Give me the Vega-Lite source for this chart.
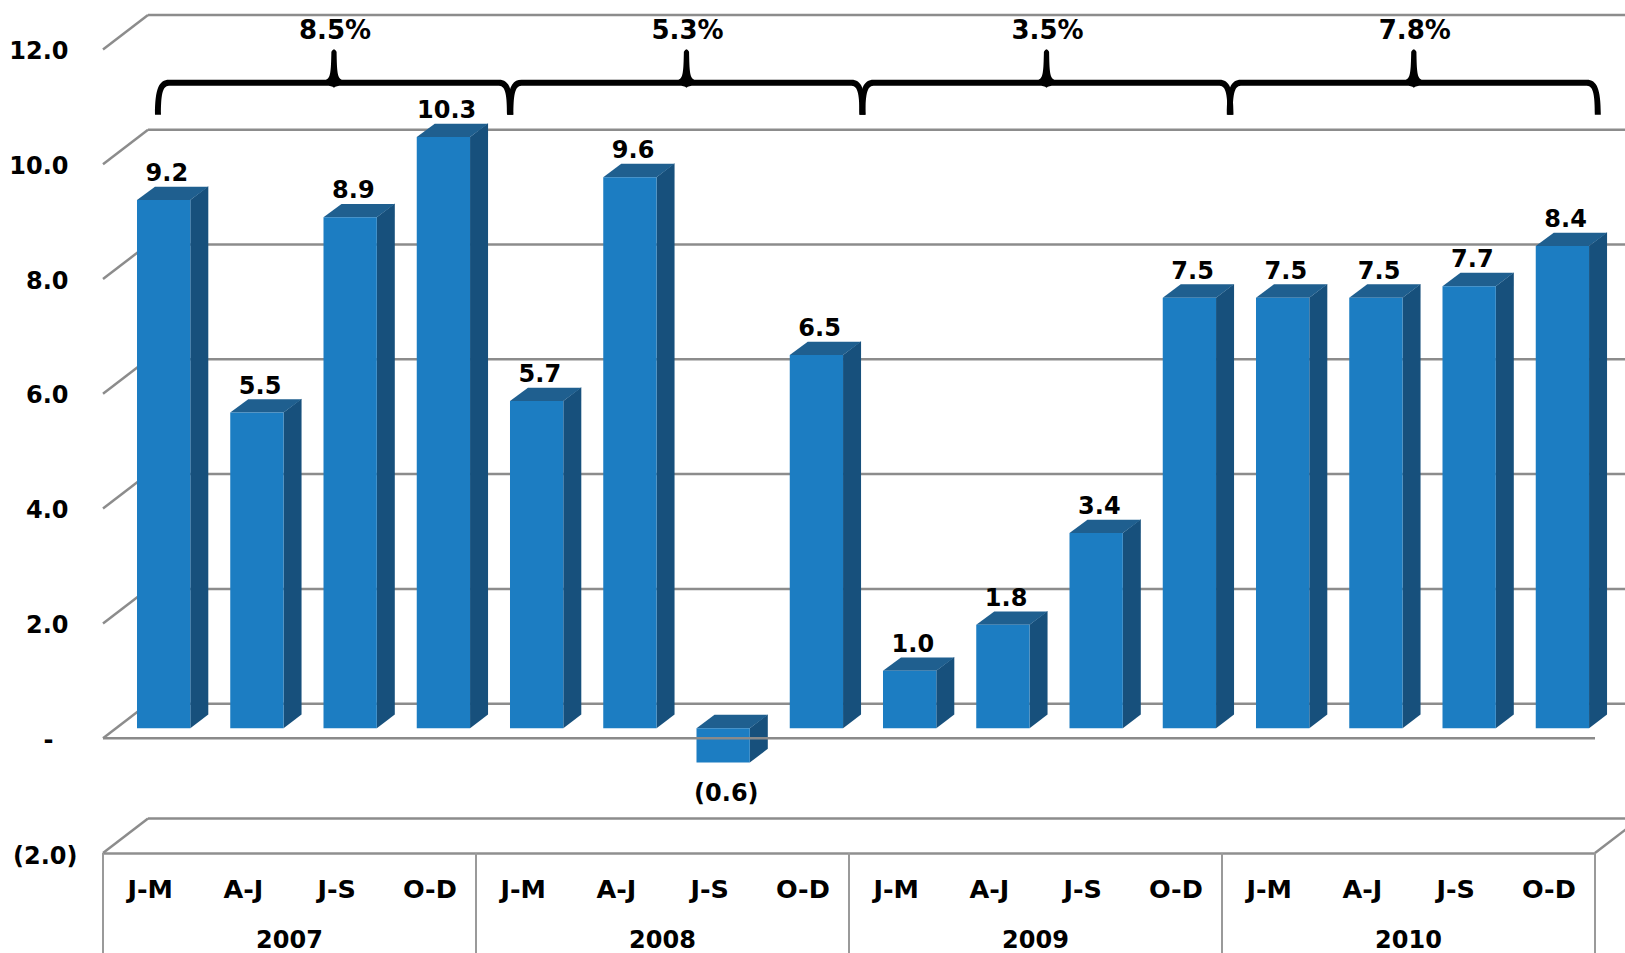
{
  "$schema": "https://vega.github.io/schema/vega-lite/v6.json",
  "autosize": {"type": "none"},
  "padding": {"left": 103, "top": 0, "right": 30, "bottom": 100},
  "width": 1492,
  "height": 853,
  "background": "white",
  "resolve": {"axis": {"y": "independent"}},
  "config": {
    "view": {"stroke": null},
    "text": {"font": "DejaVu Sans", "fontWeight": "bold", "fontSize": 24, "fill": "black"},
    "axis": {"labelFont": "DejaVu Sans", "labelFontWeight": "bold", "labelFontSize": 24, "labelColor": "black"}
  },
  "datasets": {
    "quarters": [
      {"period": "J-M", "year": 2007, "index": 0, "value": 9.2},
      {"period": "A-J", "year": 2007, "index": 1, "value": 5.5},
      {"period": "J-S", "year": 2007, "index": 2, "value": 8.9},
      {"period": "O-D", "year": 2007, "index": 3, "value": 10.3},
      {"period": "J-M", "year": 2008, "index": 4, "value": 5.7},
      {"period": "A-J", "year": 2008, "index": 5, "value": 9.6},
      {"period": "J-S", "year": 2008, "index": 6, "value": -0.6},
      {"period": "O-D", "year": 2008, "index": 7, "value": 6.5},
      {"period": "J-M", "year": 2009, "index": 8, "value": 1.0},
      {"period": "A-J", "year": 2009, "index": 9, "value": 1.8},
      {"period": "J-S", "year": 2009, "index": 10, "value": 3.4},
      {"period": "O-D", "year": 2009, "index": 11, "value": 7.5},
      {"period": "J-M", "year": 2010, "index": 12, "value": 7.5},
      {"period": "A-J", "year": 2010, "index": 13, "value": 7.5},
      {"period": "J-S", "year": 2010, "index": 14, "value": 7.7},
      {"period": "O-D", "year": 2010, "index": 15, "value": 8.4}
    ],
    "years": [
      {"year": 2007, "middle": 2, "growth": 8.5, "brace": 2.477},
      {"year": 2008, "middle": 6, "growth": 5.3, "brace": 6.257},
      {"year": 2009, "middle": 10, "growth": 3.5, "brace": 10.118},
      {"year": 2010, "middle": 14, "growth": 7.8, "brace": 14.057}
    ],
    "ticks": [
      {"tick": -2}, {"tick": 0}, {"tick": 2}, {"tick": 4}, {"tick": 6}, {"tick": 8}, {"tick": 10}, {"tick": 12}
    ],
    "dividers": [
      {"at": 0}, {"at": 4}, {"at": 8}, {"at": 12}, {"at": 16}
    ]
  },
  "layer": [
    {
      "description": "Back wall gridlines, pushed up and to the right by the depth of the box; carries the axis labels for positive values",
      "data": {"name": "ticks"},
      "mark": {"type": "rule", "stroke": "#8c8c8c", "strokeWidth": 2.5},
      "transform": [
        {"calculate": "datum.tick + 0.601", "as": "wall"},
        {"calculate": "0.4826", "as": "x0"},
        {"calculate": "16.4826", "as": "x1"}
      ],
      "encoding": {
        "x": {"field": "x0", "type": "quantitative", "scale": {"domain": [0, 16], "nice": false, "zero": false}, "axis": {
          "orient": "bottom",
          "values": [0.5, 1.5, 2.5, 3.5, 4.5, 5.5, 6.5, 7.5, 8.5, 9.5, 10.5, 11.5, 12.5, 13.5, 14.5, 15.5],
          "labelExpr": "['J-M','A-J','J-S','O-D'][floor(datum.value) % 4]",
          "title": null, "grid": false, "ticks": false,
          "domain": true, "domainColor": "#8f8f8f", "domainWidth": 2.5,
          "labelFontSize": 25.5,
          "labelPadding": 36, "labelBaseline": "middle", "labelAlign": "center",
          "labelFlush": false, "labelOverlap": false, "labelBound": false
        }},
        "x2": {"field": "x1"},
        "y": {"field": "wall", "type": "quantitative", "scale": {"domain": [-2, 12.861], "nice": false, "zero": false}, "axis": {
          "orient": "left",
          "values": [2, 4, 6, 8, 10, 12],
          "format": ".1f",
          "title": null, "grid": false, "ticks": false, "domain": false,
          "labelPadding": 35, "labelAlign": "right", "labelBaseline": "middle", "labelOffset": 2,
          "labelFlush": false, "labelOverlap": false, "labelBound": false
        }}
      }
    },
    {
      "description": "Slanted side of each gridline on the left wall; carries the bracketed label of the lowest level",
      "data": {"name": "ticks"},
      "mark": {"type": "rule", "stroke": "#8c8c8c", "strokeWidth": 2.5},
      "transform": [
        {"calculate": "datum.tick + 0.601", "as": "wall"},
        {"calculate": "0", "as": "x0"},
        {"calculate": "0.4826", "as": "x1"}
      ],
      "encoding": {
        "x": {"field": "x0", "type": "quantitative"},
        "x2": {"field": "x1"},
        "y": {"field": "tick", "type": "quantitative", "axis": {
          "orient": "left",
          "values": [-2],
          "labelExpr": "'(' + format(-datum.value, '.1f') + ')'",
          "title": null, "grid": false, "ticks": false, "domain": false,
          "labelPadding": 26, "labelAlign": "right", "labelBaseline": "middle", "labelOffset": 3,
          "labelFlush": false, "labelOverlap": false, "labelBound": false
        }},
        "y2": {"field": "wall"}
      }
    },
    {
      "description": "Floor edge on the right, at the lowest level only; carries the dash shown for zero",
      "data": {"name": "ticks"},
      "mark": {"type": "rule", "stroke": "#8c8c8c", "strokeWidth": 2.5},
      "transform": [
        {"filter": "datum.tick == -2"},
        {"calculate": "datum.tick + 0.601", "as": "wall"},
        {"calculate": "16", "as": "x0"},
        {"calculate": "16.4826", "as": "x1"}
      ],
      "encoding": {
        "x": {"field": "x0", "type": "quantitative"},
        "x2": {"field": "x1"},
        "y": {"field": "tick", "type": "quantitative", "axis": {
          "orient": "left",
          "values": [0],
          "labelExpr": "'-'",
          "title": null, "grid": false, "ticks": false, "domain": false,
          "labelPadding": 50, "labelAlign": "right", "labelBaseline": "middle", "labelOffset": 2,
          "labelFlush": false, "labelOverlap": false, "labelBound": false
        }},
        "y2": {"field": "wall"}
      }
    },
    {
      "description": "Separators between the years in the category table",
      "data": {"name": "dividers"},
      "mark": {"type": "rule", "stroke": "#9a9a9a", "strokeWidth": 2},
      "encoding": {
        "x": {"field": "at", "type": "quantitative"},
        "y": {"datum": -2, "type": "quantitative", "axis": null},
        "y2": {"datum": -3.75}
      }
    },
    {
      "description": "Right side of each bar",
      "data": {"name": "quarters"},
      "transform": [
        {"calculate": "[0, 1]", "as": "edge"},
        {"flatten": ["edge"]},
        {"calculate": "datum.index + 0.3646 + 0.5716 + datum.edge * 0.193", "as": "sx"},
        {"calculate": "max(datum.value, 0) + 0.175 + datum.edge * 0.24", "as": "hi"},
        {"calculate": "min(datum.value, 0) + 0.175 + datum.edge * 0.24", "as": "lo"}
      ],
      "mark": {"type": "area", "fill": "#17507c", "opacity": 1},
      "encoding": {
        "x": {"field": "sx", "type": "quantitative"},
        "y": {"field": "hi", "type": "quantitative", "stack": null, "axis": null},
        "y2": {"field": "lo"},
        "detail": {"field": "index"}
      }
    },
    {
      "description": "Top face of each bar",
      "data": {"name": "quarters"},
      "transform": [
        {"calculate": "[0, 1]", "as": "edge"},
        {"flatten": ["edge"]},
        {"calculate": "datum.index + 0.3646 + datum.edge * 0.193", "as": "tl"},
        {"calculate": "datum.index + 0.3646 + 0.5716 + datum.edge * 0.193", "as": "tr"},
        {"calculate": "max(datum.value, 0) + 0.175 + datum.edge * 0.232", "as": "ty"}
      ],
      "mark": {"type": "area", "orient": "horizontal", "fill": "#1f5f8f", "opacity": 1},
      "encoding": {
        "y": {"field": "ty", "type": "quantitative", "axis": null},
        "x": {"field": "tl", "type": "quantitative", "stack": null},
        "x2": {"field": "tr"},
        "detail": {"field": "index"}
      }
    },
    {
      "description": "Front face of each bar",
      "data": {"name": "quarters"},
      "transform": [
        {"calculate": "datum.index + 0.3646", "as": "fl"},
        {"calculate": "datum.index + 0.3646 + 0.5716", "as": "fr"},
        {"calculate": "max(datum.value, 0) + 0.175", "as": "hi"},
        {"calculate": "min(datum.value, 0) + 0.175", "as": "lo"}
      ],
      "mark": {"type": "rect", "fill": "#1c7dc2"},
      "encoding": {
        "x": {"field": "fl", "type": "quantitative"},
        "x2": {"field": "fr"},
        "y": {"field": "hi", "type": "quantitative", "axis": null},
        "y2": {"field": "lo"}
      }
    },
    {
      "description": "Front edge of the zero plane, which passes in front of the negative bar",
      "data": {"name": "ticks"},
      "mark": {"type": "rule", "stroke": "#8a8a8a", "strokeWidth": 2.5},
      "transform": [
        {"filter": "datum.tick == 0"},
        {"calculate": "0", "as": "x0"},
        {"calculate": "16", "as": "x1"}
      ],
      "encoding": {
        "x": {"field": "x0", "type": "quantitative"},
        "x2": {"field": "x1"},
        "y": {"field": "tick", "type": "quantitative", "axis": null}
      }
    },
    {
      "description": "Value above each bar, in brackets below the bar when negative",
      "data": {"name": "quarters"},
      "transform": [
        {"calculate": "datum.index + 0.3646 + 0.32", "as": "lx"},
        {"calculate": "datum.value < 0 ? datum.value + 0.181 - 0.52 : datum.value + 0.181 + 0.232 + 0.24", "as": "ly"},
        {"calculate": "datum.value < 0 ? '(' + format(-datum.value, '.1f') + ')' : format(datum.value, '.1f')", "as": "shown"}
      ],
      "mark": {"type": "text", "baseline": "middle", "align": "center", "dy": 1.5},
      "encoding": {
        "x": {"field": "lx", "type": "quantitative"},
        "y": {"field": "ly", "type": "quantitative", "axis": null},
        "text": {"field": "shown"}
      }
    },
    {
      "description": "Year names under the quarters",
      "data": {"name": "years"},
      "mark": {"type": "text", "baseline": "middle", "align": "center"},
      "encoding": {
        "x": {"field": "middle", "type": "quantitative"},
        "y": {"datum": -3.54, "type": "quantitative", "axis": null},
        "text": {"field": "year"}
      }
    },
    {
      "description": "Curly brace over each year, drawn as a symbol in pixels around its tip",
      "data": {"name": "years"},
      "mark": {"type": "point", "filled": true, "opacity": 1, "size": 4, "fill": "black", "strokeWidth": 0},
      "encoding": {
        "x": {"field": "brace", "type": "quantitative"},
        "y": {"datum": 11.42, "type": "quantitative", "axis": null},
        "shape": {
          "field": "year", "type": "nominal", "legend": null,
          "scale": {
            "domain": [2007, 2008, 2009, 2010],
            "range": [
              "M-2.6,-31Q0,-36,2.6,-31C3,-12,3.2,-3,9,-3L165,-3C175,-3,179,6,179,32L173,32C173,14,172,3,165,3L8,3C4,3,1.5,3.5,0,5C-1.5,3.5,-4,3,-8,3L-165,3C-172,3,-173,14,-173,32L-179,32C-179,6,-175,-3,-165,-3L-9,-3C-3.2,-3,-3,-12,-2.6,-31Z",
              "M-2.6,-31Q0,-36,2.6,-31C3,-12,3.2,-3,9,-3L165,-3C175,-3,179,6,179,32L173,32C173,14,172,3,165,3L8,3C4,3,1.5,3.5,0,5C-1.5,3.5,-4,3,-8,3L-165,3C-172,3,-173,14,-173,32L-179,32C-179,6,-175,-3,-165,-3L-9,-3C-3.2,-3,-3,-12,-2.6,-31Z",
              "M-2.6,-31Q0,-36,2.6,-31C3,-12,3.2,-3,9,-3L173,-3C183,-3,187,6,187,32L181,32C181,14,180,3,173,3L8,3C4,3,1.5,3.5,0,5C-1.5,3.5,-4,3,-8,3L-173,3C-180,3,-181,14,-181,32L-187,32C-187,6,-183,-3,-173,-3L-9,-3C-3.2,-3,-3,-12,-2.6,-31Z",
              "M-2.6,-31Q0,-36,2.6,-31C3,-12,3.2,-3,9,-3L173,-3C183,-3,187,6,187,32L181,32C181,14,180,3,173,3L8,3C4,3,1.5,3.5,0,5C-1.5,3.5,-4,3,-8,3L-173,3C-180,3,-181,14,-181,32L-187,32C-187,6,-183,-3,-173,-3L-9,-3C-3.2,-3,-3,-12,-2.6,-31Z"
            ]
          }
        }
      }
    },
    {
      "description": "Average growth for each year, above its brace",
      "data": {"name": "years"},
      "transform": [
        {"calculate": "format(datum.growth, '.1f') + '%'", "as": "shown"}
      ],
      "mark": {"type": "text", "baseline": "middle", "align": "center", "fontSize": 26, "dx": 1, "dy": 1},
      "encoding": {
        "x": {"field": "brace", "type": "quantitative"},
        "y": {"datum": 12.34, "type": "quantitative", "axis": null},
        "text": {"field": "shown"}
      }
    }
  ]
}
